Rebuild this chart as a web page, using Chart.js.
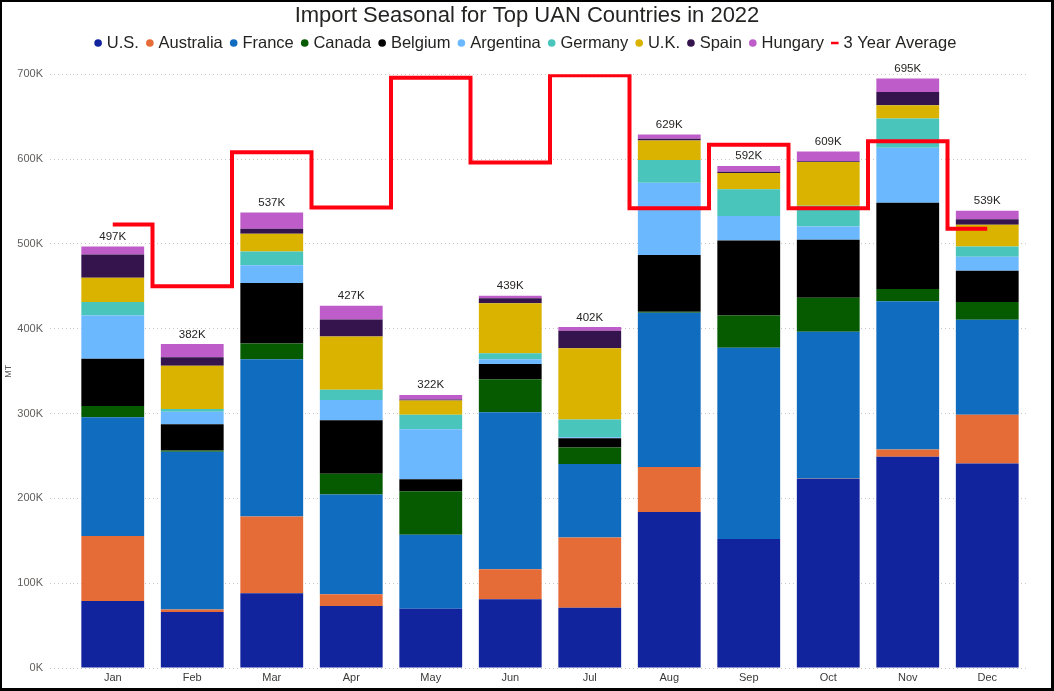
<!DOCTYPE html>
<html>
<head>
<meta charset="utf-8">
<script src="https://cdn.jsdelivr.net/npm/chart.js@4.4.1/dist/chart.umd.min.js"></script>
<style>
  html, body { margin: 0; padding: 0; background: #fff; }
  #wrap { position: relative; width: 1054px; height: 691px; }
  #frame { position: absolute; left: 0; top: 0; width: 1054px; height: 691px; box-sizing: border-box;
           border-style: solid; border-color: #000; border-width: 2px 3px 3px 2px; pointer-events: none; }
</style>
</head>
<body>
<div id="wrap">
  <canvas id="importChart" width="1054" height="691"></canvas>
  <div id="frame"></div>
</div>

<script type="text/JavaScript">

//------------------------------------------------------------------------------------------
// Data (thousand MT)
//------------------------------------------------------------------------------------------

var months = ["Jan", "Feb", "Mar", "Apr", "May", "Jun", "Jul", "Aug", "Sep", "Oct", "Nov", "Dec"];

var us        = [79,   66,  88,   73,  70,   81,  71,   184, 152,   223,  249,   241];
var australia = [76.5, 3,   90.5, 14,  0,    35.5, 83,  53,  0,     0.5,  8.5,   57.5];
var france    = [140,  186, 185.5, 117.5, 87, 185, 86.5, 182, 225.5, 173,  175,   112];
var canada    = [13.5, 1.5, 18.5, 24.5, 51.5, 39, 19.5,  1,   38,    40,   14.5,  21];
var belgium   = [55.5, 31,  71.5, 63,  14,   18,  11,   67,  88.5,  68.5, 101.5, 37];
var argentina = [51,   14.5, 21,  24,  59,   5.5, 1,    85,  29,    15.5, 65,    16.5];
var germany   = [16,   3.5, 16,   12,  17,   7,   21,   27,  31.5,  24.5, 34.5,  12];
var uk        = [28.5, 51,  21,   63,  17,   59,  84,   23,  19,    51.5, 15.5,  25.5];
var spain     = [27.5, 10,  6,    20,  1,    6,   20.5, 2,   1.5,   1,    15.5,  6.5];
var hungary   = [9.5,  15.5, 19,  16,  5.5,  3,   4.5,  5,   7,     11.5, 16,    10];

var threeYearAvg = [523, 450, 608, 543, 696, 596, 699, 542, 617, 542, 621, 518];

var yTicks = [0, 100, 200, 300, 400, 500, 600, 700];

var FONT = "'Liberation Sans', Arial, sans-serif";

//------------------------------------------------------------------------------------------
// Plugins
//------------------------------------------------------------------------------------------

// total label above each stacked column
var totalLabels = {
    id: 'totalLabels',
    afterDatasetsDraw: function(chart) {
        var ctx = chart.ctx;
        var xScale = chart.scales.x;
        var yScale = chart.scales.y;
        ctx.save();
        ctx.font = "11.5px " + FONT;
        ctx.fillStyle = "#252423";
        ctx.textAlign = "center";
        ctx.textBaseline = "alphabetic";
        for (var i = 0; i < months.length; i++) {
            var total = 0;
            chart.data.datasets.forEach(function(ds) {
                if (ds.type !== 'line') total += ds.data[i];
            });
            var x = xScale.getPixelForValue(i);
            var y = yScale.getPixelForValue(total);
            ctx.fillText(Math.round(total) + "K", x, y - 6.5);
        }
        ctx.restore();
    }
};

// a bit more room between legend and plot
var legendSpacer = {
    id: 'legendSpacer',
    beforeLayout: function(chart) {
        var legend = chart.legend;
        if (legend && !legend._spaced) {
            var fit = legend.fit;
            legend.fit = function() {
                fit.call(this);
                this.height += 13;
            };
            legend._spaced = true;
        }
    }
};

//------------------------------------------------------------------------------------------
function barSet(label, values, color) {
    return {
        label: label,
        data: values,
        backgroundColor: color,
        borderWidth: 0,
        pointStyle: 'circle',
        order: 1
    };
}

var ctx = document.getElementById("importChart").getContext('2d');
var myChart = new Chart(ctx, {
    type: 'bar',
    data: {
        labels: months,
        datasets: [
            barSet("U.S.", us, "#12239E"),
            barSet("Australia", australia, "#E66C37"),
            barSet("France", france, "#106CBF"),
            barSet("Canada", canada, "#065A00"),
            barSet("Belgium", belgium, "#000000"),
            barSet("Argentina", argentina, "#6CB8FF"),
            barSet("Germany", germany, "#4AC5BB"),
            barSet("U.K.", uk, "#D9B300"),
            barSet("Spain", spain, "#35134D"),
            barSet("Hungary", hungary, "#BE5DC9"),
            {
                type: 'line',
                label: "3 Year Average",
                data: threeYearAvg,
                stack: 'avg',
                stepped: 'middle',
                borderColor: "#FF0010",
                backgroundColor: "#FF0010",
                borderWidth: 4,
                borderJoinStyle: 'miter',
                pointRadius: 0,
                pointStyle: 'line',
                fill: false,
                order: 0
            }
        ]
    },
    options: {
        responsive: false,
        animation: false,
        layout: { padding: { left: 0, right: 0, top: 0, bottom: 6 } },
        datasets: { bar: { categoryPercentage: 1, barPercentage: 0.79 } },
        plugins: {
            title: {
                display: true,
                text: "Import Seasonal for Top UAN Countries in 2022",
                color: "#252423",
                font: { family: FONT, size: 22, weight: 'normal', lineHeight: 1.2 },
                padding: { top: 3, bottom: -5 }
            },
            legend: {
                display: true,
                labels: {
                    usePointStyle: true,
                    boxWidth: 1,
                    boxHeight: 5.4,
                    padding: 10.4,
                    color: "#252423",
                    font: { family: FONT, size: 16.5 },
                    sort: function(a, b) { return a.datasetIndex - b.datasetIndex; },
                    generateLabels: function(chart) {
                        var items = Chart.defaults.plugins.legend.labels.generateLabels(chart);
                        items.forEach(function(it) {
                            if (it.text === "3 Year Average") it.lineWidth = 2.5;
                        });
                        return items;
                    }
                }
            },
            tooltip: { enabled: false }
        },
        scales: {
            x: {
                stacked: true,
                grid: { display: false, drawTicks: false },
                border: { display: false },
                afterFit: function(scale) { scale.height = 17; },
                ticks: { color: "#3B3A39", font: { family: FONT, size: 11 }, padding: 3 }
            },
            y: {
                stacked: true,
                min: 0,
                max: 700,
                afterFit: function(scale) { scale.width = 73; },
                afterBuildTicks: function(scale) {
                    scale.ticks = yTicks.map(function(v) { return { value: v }; });
                },
                title: {
                    display: true,
                    text: "MT",
                    color: "#605E5C",
                    font: { family: FONT, size: 9 },
                    padding: { top: 3, bottom: 0 }
                },
                border: { display: false, dash: [1, 3] },
                grid: {
                    color: "#C8C6C4",
                    lineWidth: 1,
                    drawTicks: true,
                    tickLength: 23,
                    tickColor: "#C8C6C4",
                    tickBorderDash: [1, 3]
                },
                ticks: {
                    color: "#605E5C",
                    font: { family: FONT, size: 11 },
                    padding: 7,
                    callback: function(v) { return v + "K"; }
                }
            },
            // empty right margin so title and legend stay centred on the page
            yRight: {
                type: 'linear',
                position: 'right',
                display: true,
                grid: { display: false, drawTicks: false },
                border: { display: false },
                ticks: { display: false },
                afterFit: function(scale) { scale.width = 27; }
            }
        }
    },
    plugins: [totalLabels, legendSpacer]
}); //Chart()

</script>
</body>
</html>
